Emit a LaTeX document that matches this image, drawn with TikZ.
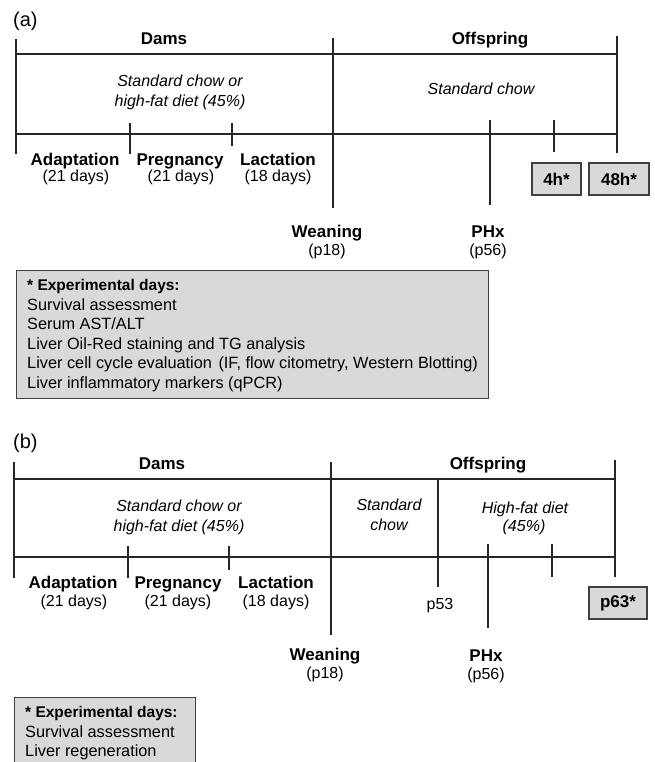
\documentclass[tikz,border=0pt]{standalone}
\usepackage{fontspec}
\setmainfont{Liberation Sans}
\begin{document}
\begin{tikzpicture}[x=1pt,y=-1pt,
  tl/.style={line width=1.4pt, black!85},
  lbl/.style={font=\fontsize{17}{20}\selectfont\bfseries, inner sep=0pt, anchor=base},
  sub/.style={font=\fontsize{16}{19}\selectfont, inner sep=0pt, anchor=base},
  diet/.style={font=\fontsize{16}{19}\selectfont\itshape, inner sep=0pt, anchor=base},
  panel/.style={font=\fontsize{20}{24}\selectfont, inner sep=0pt, anchor=base west},
  ebox/.style={draw=black!75, fill=black!15, line width=1.3pt, inner sep=0pt},
  etxt/.style={font=\fontsize{16.3}{19}\selectfont, inner sep=0pt, anchor=base west},
  ehead/.style={font=\fontsize{15.5}{18}\selectfont\bfseries, inner sep=0pt, anchor=base west},
  tbox/.style={ebox, font=\fontsize{17}{20}\selectfont\bfseries, minimum height=32pt}
]
\useasboundingbox (0,0) rectangle (655,762);

% ================= (a) =================
\node[panel] (pa) at (13,26.5) {(a)};
% timeline coordinates
\coordinate (aL1) at (16,39);   \coordinate (aL2) at (16,154);
\coordinate (aT1) at (16,54);   \coordinate (aT2) at (617,54);
\coordinate (aB1) at (16,134);  \coordinate (aB2) at (617,134);
\coordinate (aP1) at (130,123); \coordinate (aP2) at (130,154);
\coordinate (aQ1) at (232,123); \coordinate (aQ2) at (232,146);
\coordinate (aW1) at (333,38);  \coordinate (aW2) at (333,208);
\coordinate (aH1) at (490,120); \coordinate (aH2) at (490,205);
\coordinate (aF1) at (554,120); \coordinate (aF2) at (554,152);
\coordinate (aR1) at (617,36);  \coordinate (aR2) at (617,153);
\draw[tl] (aL1) -- (aL2);
\draw[tl] (aT1) -- (aT2);
\draw[tl] (aB1) -- (aB2);
\draw[tl] (aP1) -- (aP2);
\draw[tl] (aQ1) -- (aQ2);
\draw[tl] (aW1) -- (aW2);
\draw[tl] (aH1) -- (aH2);
\draw[tl] (aF1) -- (aF2);
\draw[tl] (aR1) -- (aR2);

\node[lbl] (adams) at (164,45) {Dams};
\node[lbl] (aoff) at (490,45) {Offspring};
\node[diet] (adiet1) at (180,87) {Standard chow or};
\node[diet] (adiet2) at (180,107) {high-fat diet (45\%)};
\node[diet] (achow) at (481,95) {Standard chow};
\node[lbl] (aad) at (75,165) {Adaptation};
\node[sub] (aadd) at (76,182) {(21 days)};
\node[lbl] (apr) at (180,165) {Pregnancy};
\node[sub] (aprd) at (181,182) {(21 days)};
\node[lbl] (ala) at (278,165) {Lactation};
\node[sub] (alad) at (278,182) {(18 days)};
\node[lbl] (awe) at (327,237.5) {Weaning};
\node[sub] (awed) at (327,255) {(p18)};
\node[lbl] (aphx) at (488,237) {PHx};
\node[sub] (aphxd) at (488,255) {(p56)};
\node[tbox, minimum width=49pt] (a4h) at (556.5,179) {4h*};
\node[tbox, minimum width=60pt] (a48h) at (619,179) {48h*};

\node[ebox, minimum width=472pt, minimum height=128pt, anchor=north west] (aebox) at (16,270) {};
\node[ehead] (ae0) at (27,290.5) {* Experimental days:};
\node[etxt] (ae1) at (27,310) {Survival assessment};
\node[etxt] (ae2) at (27,329.5) {Serum AST/ALT};
\node[etxt] (ae3) at (27,349) {Liver Oil-Red staining and TG analysis};
\node[etxt] (ae4) at (27,368.5) {Liver cell cycle evaluation\hspace{2pt} (IF, flow citometry, Western Blotting)};
\node[etxt] (ae5) at (27,388) {Liver inflammatory markers (qPCR)};

% ================= (b) =================
\node[panel] (pb) at (13,448) {(b)};
\coordinate (bL1) at (14,462);  \coordinate (bL2) at (14,578);
\coordinate (bT1) at (14,479);  \coordinate (bT2) at (615,479);
\coordinate (bB1) at (14,557);  \coordinate (bB2) at (615,557);
\coordinate (bP1) at (128,546); \coordinate (bP2) at (128,578);
\coordinate (bQ1) at (229,546); \coordinate (bQ2) at (229,570);
\coordinate (bW1) at (331,462); \coordinate (bW2) at (331,635);
\coordinate (bS1) at (438,479); \coordinate (bS2) at (438,587);
\coordinate (bH1) at (488,544); \coordinate (bH2) at (488,628);
\coordinate (bF1) at (552,544); \coordinate (bF2) at (552,577);
\coordinate (bR1) at (615,460); \coordinate (bR2) at (615,577);
\draw[tl] (bL1) -- (bL2);
\draw[tl] (bT1) -- (bT2);
\draw[tl] (bB1) -- (bB2);
\draw[tl] (bP1) -- (bP2);
\draw[tl] (bQ1) -- (bQ2);
\draw[tl] (bW1) -- (bW2);
\draw[tl] (bS1) -- (bS2);
\draw[tl] (bH1) -- (bH2);
\draw[tl] (bF1) -- (bF2);
\draw[tl] (bR1) -- (bR2);

\node[lbl] (bdams) at (162,469) {Dams};
\node[lbl] (boff) at (488,469) {Offspring};
\node[diet] (bdiet1) at (179,511.5) {Standard chow or};
\node[diet] (bdiet2) at (179,531.5) {high-fat diet (45\%)};
\node[diet] (bstd1) at (389,510) {Standard};
\node[diet] (bstd2) at (389,530) {chow};
\node[diet] (bhf1) at (525,513) {High-fat diet};
\node[diet] (bhf2) at (524,531) {(45\%)};
\node[lbl] (bad) at (73,588) {Adaptation};
\node[sub] (badd) at (74,606) {(21 days)};
\node[lbl] (bpr) at (178,588) {Pregnancy};
\node[sub] (bprd) at (178,606) {(21 days)};
\node[lbl] (bla) at (276,588) {Lactation};
\node[sub] (blad) at (276,606) {(18 days)};
\node[sub] (bp53) at (440,609) {p53};
\node[tbox, minimum width=58pt] (bp63) at (618,603) {p63*};
\node[lbl] (bphx) at (486,661.5) {PHx};
\node[sub] (bphxd) at (486,679) {(p56)};
\node[lbl] (bwe) at (325,660) {Weaning};
\node[sub] (bwed) at (325,678) {(p18)};

\node[ebox, minimum width=181pt, minimum height=80pt, anchor=north west] (bebox) at (14,697) {};
\node[ehead] (be0) at (25,717.5) {* Experimental days:};
\node[etxt] (be1) at (25,737) {Survival assessment};
\node[etxt] (be2) at (25,756) {Liver regeneration};
\end{tikzpicture}
\end{document}
